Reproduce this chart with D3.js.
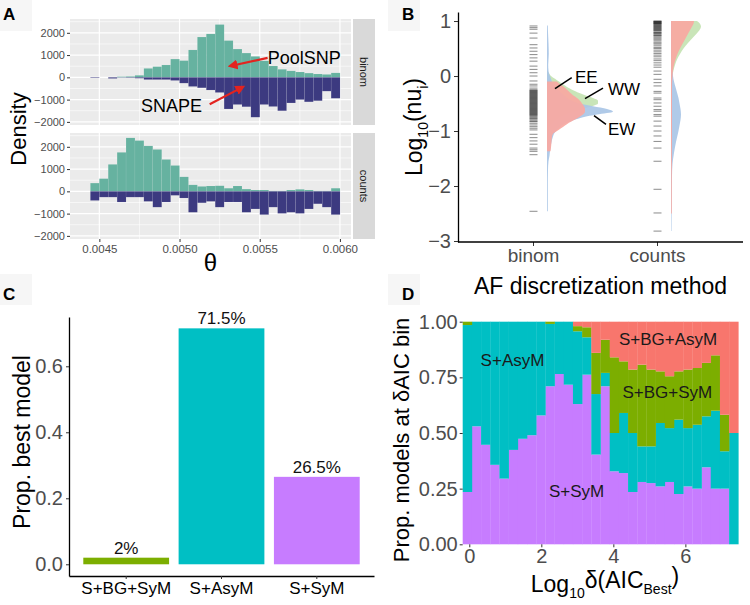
<!DOCTYPE html>
<html>
<head>
<meta charset="utf-8">
<title>theta, nu and AIC panels</title>
<script src="https://d3js.org/d3.v7.min.js"></script>
<style>
  body { margin: 0; background: #fff; }
</style>
</head>
<body>
<script>
// ---------- panel A : theta histograms (28 bins per facet)
var thetaBinStart = 0.004444, thetaBinWidth = 0.0000556;
var binomPoolSNP = [0, 0, 0, 30, 40, 90, 400, 480, 555, 820, 750, 1230, 1810, 1950, 2370, 1650, 1270, 1090, 940, 740, 510, 360, 290, 240, 190, 150, 130, 200];
var binomSNAPE = [-25, 0, -50, -10, -20, -40, -100, -100, -100, -140, -260, -410, -470, -570, -680, -1420, -1220, -1320, -1790, -1220, -1310, -1500, -1150, -1000, -1100, -1050, -620, -940];
var countsPoolSNP = [370, 570, 1210, 1750, 2400, 2280, 2040, 1880, 1430, 1160, 650, 290, 220, 240, 250, 140, 240, 100, 60, 60, 20, 20, 60, 90, 60, 20, 20, 140];
var countsSNAPE = [-410, -260, -260, -480, -260, -260, -450, -710, -480, -180, -300, -940, -515, -450, -710, -480, -480, -940, -790, -1045, -710, -990, -940, -990, -790, -560, -710, -1045];
var thetaTicks = [0.0045, 0.0050, 0.0055, 0.0060];
var thetaMinor = [0.00475, 0.00525, 0.00575];
var densityTicks = [-2000, -1000, 0, 1000, 2000];
var densityMinor = [-1500, -500, 500, 1500, 2500];

// ---------- panel B : half densities of log10(nu_i) + rugs
var methods = ["binom", "counts"];
var binomGrid = [0.92, 0.8, 0.6, 0.4, 0.2, 0.1, 0.05, 0.0, -0.05, -0.1, -0.15, -0.2, -0.25, -0.3, -0.35, -0.4, -0.45, -0.5, -0.55, -0.6, -0.65, -0.7, -0.75, -0.8, -0.85, -0.9, -0.95, -1.0, -1.05, -1.1, -1.2, -1.3, -1.37, -1.45, -1.55, -1.7, -2.0, -2.46];
var binomEW = [0.8, 1.0, 1.5, 1.8, 1.2, 1.5, 2, 3, 4, 5, 7, 9, 11, 14, 17, 20, 25, 32, 46, 60, 66, 50, 36, 27, 20, 15, 12, 9, 7, 6, 4.5, 3.5, 3, 2.5, 1.5, 1, 0.8, 0.8];
var binomWW = [null, null, null, null, null, 0.5, 2, 4, 8, 12, 16, 20, 25, 31, 38, 46, 51, 51, 45, 36, 26, 18, 12, 8, 5, 3, 2, 1, 0.8, 0.6, 0.4, 0.3, null, null, null, null, null, null];
var binomEE = [null, null, null, null, null, null, null, null, null, 10, 13, 17, 20, 23, 26, 30, 33, 35, 37, 38, 38, 36, 32, 27, 22, 18, 14, 10, 6, 5, 4.5, 4, 3.5, null, null, null, null, null];
var countsGrid = [1.0, 0.95, 0.9, 0.85, 0.8, 0.7, 0.6, 0.5, 0.4, 0.3, 0.2, 0.1, 0.0, -0.1, -0.2, -0.3, -0.4, -0.5, -0.6, -0.7, -0.8, -0.9, -1.0, -1.2, -1.4, -1.6, -1.8, -2.0, -2.5, -2.82];
var countsEW = [1, 1, 1, 1, 1, 1, 1, 1, 1, 1, 1.2, 1.5, 2, 3, 4.5, 6, 7.5, 8.5, 9.5, 10, 9.5, 8.5, 7.5, 5, 3, 1.5, 1, 0.8, 0.6, 0.5];
var countsWW = [26, 29, 30, 29, 27, 22, 17, 12.5, 9, 6, 4, 2.5, 1.5, 1, 0.5, 0.3, null, null, null, null, null, null, null, null, null, null, null, null, null, null];
var countsEE = [23, 22.5, 21, 19.5, 18, 15, 12, 9, 6.5, 4.5, 3, 2, 1.5, 1.2, 1, 1, 1, 1, 1, 1, 1, 1, 1, 1, 0.9, 0.9, 0.8, 0.8, 0.8, null];
var binomRug = [0.91, 0.88, 0.85, 0.78, 0.69, 0.57, 0.51, 0.45, 0.39, 0.33, 0.27, 0.18, 0.12, 0.06, 0.0, -0.09, -0.15, -0.18, -0.22,
    -0.25, -0.26, -0.27, -0.28, -0.29, -0.30, -0.31, -0.32, -0.33, -0.34, -0.35, -0.36, -0.37, -0.38, -0.39, -0.40, -0.41, -0.42, -0.43, -0.44,
    -0.45, -0.46, -0.47, -0.48, -0.49, -0.50, -0.51, -0.52, -0.53, -0.54, -0.55, -0.56, -0.57, -0.58, -0.59, -0.60, -0.61, -0.62, -0.63, -0.64,
    -0.65, -0.66, -0.67, -0.68, -0.69, -0.70, -0.71, -0.72, -0.74, -0.75, -0.77, -0.78, -0.80, -0.82, -0.83, -0.86, -0.89, -0.92, -0.95, -0.98,
    -1.06, -1.12, -1.18, -1.24, -1.31, -1.34, -1.37, -1.43, -2.46];
var countsRug = [1.0, 0.995, 0.99, 0.98, 0.975, 0.97, 0.96, 0.955, 0.95, 0.94, 0.93, 0.92, 0.91, 0.90, 0.89, 0.88, 0.87, 0.86, 0.85, 0.84, 0.83, 0.82,
    0.80, 0.79, 0.78, 0.77, 0.75, 0.74, 0.73, 0.71, 0.69, 0.67, 0.65, 0.62, 0.60, 0.58, 0.55, 0.52, 0.50, 0.47, 0.44, 0.41, 0.38, 0.35, 0.31, 0.28,
    0.24, 0.20, 0.16, 0.09, 0.03, -0.06, -0.12, -0.18, -0.28, -0.31, -0.40, -0.43, -0.49, -0.55, -0.61, -0.64, -0.70, -0.73, -0.82, -0.91, -1.0,
    -1.09, -1.19, -1.31, -1.55, -2.06, -2.49, -2.82];
var nuTicks = [1, 0, -1, -2, -3];

// ---------- panel C : best model proportions
var models = ["S+BG+SyM", "S+AsyM", "S+SyM"];
var propBest = [0.02, 0.715, 0.265];
var propLabels = ["2%", "71.5%", "26.5%"];
var propBestTicks = [0, 0.2, 0.4, 0.6];

// ---------- panel D : model proportions per log10 delta AIC bin (30 bins)
var aicBinStart = -0.183, aicBinWidth = 0.2551;
var pSyM = [0.235, 0.53, 0.447, 0.357, 0.295, 0.424, 0.474, 0.49, 0.579, 0.71, 0.765, 0.717, 0.63, 0.762, 0.403, 0.71, 0.328, 0.32, 0.235, 0.28, 0.275, 0.26, 0.28, 0.226, 0.26, 0.25, 0.346, 0.25, 0.25, 0];
var pAsyM = [0.75, 0.47, 0.553, 0.643, 0.705, 0.576, 0.526, 0.51, 0.421, 0.28, 0.235, 0.283, 0.327, 0.168, 0.272, 0.06, 0.172, 0.27, 0.265, 0.16, 0.165, 0.285, 0.242, 0.334, 0.262, 0.287, 0.229, 0.35, 0.168, 0.5];
var pBGSyM = [0.015, 0, 0, 0, 0, 0, 0, 0, 0, 0.01, 0, 0, 0.023, 0.045, 0.185, 0.149, 0.34, 0.232, 0.285, 0.367, 0.345, 0.232, 0.233, 0.217, 0.263, 0.255, 0.24, 0.249, 0.164, 0];
var pBGAsyM = [0, 0, 0, 0, 0, 0, 0, 0, 0, 0, 0, 0, 0.02, 0.025, 0.14, 0.081, 0.16, 0.178, 0.215, 0.193, 0.215, 0.223, 0.245, 0.223, 0.215, 0.208, 0.185, 0.151, 0.418, 0.5];
var aicTicks = [0, 2, 4, 6];
var propTicks = [0, 0.25, 0.5, 0.75, 1];

// ======================================================================
var font = "'Liberation Sans', Arial, Helvetica, sans-serif";
var svg = d3.select("body").append("svg").attr("width", 750).attr("height", 605)
    .style("font-family", font);
svg.append("rect").attr("width", 750).attr("height", 605).attr("fill", "#fff");

var defs = svg.append("defs");
defs.append("marker").attr("id", "redhead").attr("viewBox", "0 0 10 10")
    .attr("refX", 7).attr("refY", 5).attr("markerWidth", 4.5).attr("markerHeight", 4.5)
    .attr("orient", "auto")
  .append("path").attr("d", "M0,0L10,5L0,10z").attr("fill", "#e3231f");

function styleAxis(g, size, color, keepDomain) {
    if (!keepDomain) g.select(".domain").remove();
    else g.select(".domain").attr("stroke", "#000").attr("stroke-width", 1.3);
    g.selectAll(".tick line").attr("stroke", "#333");
    g.selectAll(".tick text").attr("font-family", font).attr("font-size", size).attr("fill", color);
}

// panel letters with their faint backing boxes
var letters = [
    {t: "A", x: 0, y: 0, tx: 3, ty: 20}, {t: "B", x: 388, y: 0, tx: 402, ty: 20},
    {t: "C", x: 0, y: 274, tx: 3, ty: 300}, {t: "D", x: 388, y: 274, tx: 402, ty: 300}
];
letters.forEach(function (l) {
    svg.append("rect").attr("x", l.x).attr("y", l.y).attr("width", 32).attr("height", 31).attr("fill", "#f6f6f6");
    svg.append("text").attr("x", l.tx).attr("y", l.ty).attr("font-size", 17)
        .attr("font-weight", "bold").text(l.t);
});

// ---------------- panel A
var xA = d3.scaleLinear().domain([0.004317, 0.006069]).range([70, 351]);
var facetH = 106;
var facets = [
    {name: "binom", top: 19, pool: binomPoolSNP, snape: binomSNAPE},
    {name: "counts", top: 133, pool: countsPoolSNP, snape: countsSNAPE}
];
var yAbinom = null;
facets.forEach(function (f) {
    var yA = d3.scaleLinear().domain([-2140, 2620]).range([f.top + facetH, f.top]);
    if (f.name === "binom") yAbinom = yA;
    var g = svg.append("g");
    g.append("rect").attr("x", xA.range()[0]).attr("y", f.top)
        .attr("width", xA.range()[1] - xA.range()[0]).attr("height", facetH).attr("fill", "#ebebeb");
    g.selectAll("line.hmin").data(densityMinor).enter().append("line")
        .attr("x1", xA.range()[0]).attr("x2", xA.range()[1])
        .attr("y1", function (d) { return yA(d); }).attr("y2", function (d) { return yA(d); })
        .attr("stroke", "#fff").attr("stroke-width", 0.6);
    g.selectAll("line.vmin").data(thetaMinor).enter().append("line")
        .attr("y1", f.top).attr("y2", f.top + facetH)
        .attr("x1", function (d) { return xA(d); }).attr("x2", function (d) { return xA(d); })
        .attr("stroke", "#fff").attr("stroke-width", 0.6);
    g.selectAll("line.hmaj").data(densityTicks).enter().append("line")
        .attr("x1", xA.range()[0]).attr("x2", xA.range()[1])
        .attr("y1", function (d) { return yA(d); }).attr("y2", function (d) { return yA(d); })
        .attr("stroke", "#fff").attr("stroke-width", 1.2);
    g.selectAll("line.vmaj").data(thetaTicks).enter().append("line")
        .attr("y1", f.top).attr("y2", f.top + facetH)
        .attr("x1", function (d) { return xA(d); }).attr("x2", function (d) { return xA(d); })
        .attr("stroke", "#fff").attr("stroke-width", 1.2);

    function bars(data, color) {
        g.selectAll(null).data(data).enter().append("rect")
            .attr("x", function (d, i) { return xA(thetaBinStart + i * thetaBinWidth); })
            .attr("width", function (d, i) { return xA(thetaBinStart + (i + 1) * thetaBinWidth) - xA(thetaBinStart + i * thetaBinWidth); })
            .attr("y", function (d) { return yA(Math.max(d, 0)); })
            .attr("height", function (d) { return Math.abs(yA(d) - yA(0)); })
            .attr("fill", color).attr("stroke", "#fff").attr("stroke-opacity", 0.12).attr("stroke-width", 0.5);
    }
    bars(f.pool, "#66b2a0");
    bars(f.snape, "#3c3a80");

    // facet strip
    g.append("rect").attr("x", 353).attr("y", f.top).attr("width", 22).attr("height", facetH).attr("fill", "#d9d9d9");
    g.append("text").attr("transform", "translate(364," + (f.top + facetH / 2) + ") rotate(90)")
        .attr("text-anchor", "middle").attr("dy", "0.35em").attr("font-size", 11).attr("fill", "#1a1a1a")
        .text(f.name);

    var ax = g.append("g").attr("transform", "translate(" + xA.range()[0] + ",0)")
        .call(d3.axisLeft(yA).tickValues(densityTicks).tickFormat(d3.format("d")).tickSize(3).tickPadding(2));
    styleAxis(ax, 11, "#4d4d4d");
});
var axA = svg.append("g").attr("transform", "translate(0," + (133 + facetH) + ")")
    .call(d3.axisBottom(xA).tickValues(thetaTicks).tickFormat(d3.format(".4f")).tickSize(3).tickPadding(3));
styleAxis(axA, 11.5, "#4d4d4d");
svg.append("text").attr("transform", "translate(18,129) rotate(-90)").attr("text-anchor", "middle")
    .attr("dy", "0.35em").attr("font-size", 22).text("Density");
svg.append("text").attr("x", (xA.range()[0] + xA.range()[1]) / 2).attr("y", 271)
    .attr("text-anchor", "middle").attr("font-size", 24).text("θ");

// annotations on the binom facet
svg.append("text").attr("x", xA(0.00555)).attr("y", yAbinom(600)).attr("font-size", 18).text("PoolSNP");
svg.append("text").attr("x", xA(0.00495)).attr("y", yAbinom(-1575)).attr("text-anchor", "middle")
    .attr("font-size", 18).text("SNAPE");
[[0.005549, 873, 0.005318, 511], [0.005188, -1208, 0.005393, -439]].forEach(function (a) {
    svg.append("line").attr("x1", xA(a[0])).attr("y1", yAbinom(a[1]))
        .attr("x2", xA(a[2])).attr("y2", yAbinom(a[3]))
        .attr("stroke", "#e3231f").attr("stroke-width", 2.2).attr("marker-end", "url(#redhead)");
});

// ---------------- panel B
var yB = d3.scaleLinear().domain([-3.018, 1.164]).range([242, 12]);
var xB = d3.scalePoint().domain(methods).range([533, 657]);
var wB = d3.scaleLinear().domain([0, 70]).range([0, 70]);
var densGap = 14;
var groups = [
    {method: "binom", grid: binomGrid, ww: binomWW, ew: binomEW, ee: binomEE, rug: binomRug},
    {method: "counts", grid: countsGrid, ww: countsWW, ew: countsEW, ee: countsEE, rug: countsRug}
];
var densColors = {ww: "#c4e3b2", ew: "#a9c6e6", ee: "#f8a8a1"};
groups.forEach(function (gr) {
    var base = xB(gr.method) + densGap;
    ["ww", "ew", "ee"].forEach(function (k) {
        var pts = gr.grid.map(function (v, i) { return {v: v, w: gr[k][i]}; });
        var area = d3.area()
            .defined(function (d) { return d.w != null; })
            .y(function (d) { return yB(d.v); })
            .x0(base)
            .x1(function (d) { return base + wB(d.w); })
            .curve(d3.curveMonotoneY);
        svg.append("path").datum(pts).attr("d", area).attr("fill", densColors[k]).attr("fill-opacity", 0.92);
    });
    svg.selectAll(null).data(gr.rug).enter().append("line")
        .attr("x1", xB(gr.method) - 3.5).attr("x2", xB(gr.method) + 4.5)
        .attr("y1", function (d) { return yB(d); }).attr("y2", function (d) { return yB(d); })
        .attr("stroke", "#000").attr("stroke-opacity", 0.42).attr("stroke-width", 1.1);
});
var axBy = svg.append("g").attr("transform", "translate(458,0)")
    .call(d3.axisLeft(yB).tickValues(nuTicks).tickFormat(d3.format("d")).tickSize(4).tickSizeOuter(0).tickPadding(3));
styleAxis(axBy, 20, "#4d4d4d", true);
var axBx = svg.append("g").attr("transform", "translate(0,242)")
    .call(d3.axisBottom(xB).tickSize(4).tickSizeOuter(0).tickPadding(3));
styleAxis(axBx, 19, "#4d4d4d");
svg.append("line").attr("x1", 458).attr("x2", 743).attr("y1", 242).attr("y2", 242)
    .attr("stroke", "#000").attr("stroke-width", 1.3);
var tB = svg.append("text").attr("transform", "translate(414,127) rotate(-90)")
    .attr("text-anchor", "middle").attr("dy", "0.35em").attr("font-size", 23);
tB.append("tspan").text("Log");
tB.append("tspan").attr("font-size", 14).attr("dy", "0.45em").text("10");
tB.append("tspan").attr("dy", "-0.3em").text("(nu");
tB.append("tspan").attr("font-size", 14).attr("dy", "0.45em").text("i");
tB.append("tspan").attr("dy", "-0.3em").text(")");
svg.append("text").attr("x", 600.5).attr("y", 294).attr("text-anchor", "middle")
    .attr("font-size", 23).text("AF discretization method");

var annB = [
    {t: "EE", x: 28, v: -0.13, l: [24.7, -0.03, 8, -0.23]},
    {t: "WW", x: 61, v: -0.35, l: [56, -0.22, 38, -0.41]},
    {t: "EW", x: 61, v: -1.07, l: [59, -0.88, 47, -0.72]}
];
annB.forEach(function (a) {
    var base = xB("binom") + densGap;
    svg.append("text").attr("x", base + wB(a.x)).attr("y", yB(a.v)).attr("font-size", 17).text(a.t);
    svg.append("line").attr("x1", base + wB(a.l[0])).attr("y1", yB(a.l[1]))
        .attr("x2", base + wB(a.l[2])).attr("y2", yB(a.l[3]))
        .attr("stroke", "#000").attr("stroke-width", 1.5);
});

// ---------------- panel C
var xC = d3.scaleBand().domain(models).range([69, 374]).paddingInner(0.1).paddingOuter(0.15);
var yC = d3.scaleLinear().domain([-0.0355, 0.7494]).range([576, 317]);
var colC = d3.scaleOrdinal().domain(models).range(["#7cae00", "#00bfc4", "#c77cff"]);
svg.selectAll(null).data(models).enter().append("rect")
    .attr("x", function (d) { return xC(d); }).attr("width", xC.bandwidth())
    .attr("y", function (d, i) { return yC(propBest[i]); })
    .attr("height", function (d, i) { return yC(0) - yC(propBest[i]); })
    .attr("fill", function (d) { return colC(d); });
svg.selectAll(null).data(models).enter().append("text")
    .attr("x", function (d) { return xC(d) + xC.bandwidth() / 2; })
    .attr("y", function (d, i) { return yC(propBest[i]) - 4; })
    .attr("text-anchor", "middle").attr("font-size", 17).attr("fill", "#111")
    .text(function (d, i) { return propLabels[i]; });
var axCy = svg.append("g").attr("transform", "translate(69,0)")
    .call(d3.axisLeft(yC).tickValues(propBestTicks).tickFormat(d3.format(".1f")).tickSize(3).tickSizeOuter(0).tickPadding(3));
styleAxis(axCy, 20, "#4d4d4d", true);
var axCx = svg.append("g").attr("transform", "translate(0,576)")
    .call(d3.axisBottom(xC).tickSize(3).tickSizeOuter(0).tickPadding(3));
styleAxis(axCx, 17, "#000", true);
svg.append("text").attr("transform", "translate(22,442) rotate(-90)").attr("text-anchor", "middle")
    .attr("dy", "0.35em").attr("font-size", 23).text("Prop. best model");

// ---------------- panel D
var xD = d3.scaleLinear().domain([-0.183, 7.47]).range([462.7, 738.3]);
var yD = d3.scaleLinear().domain([0, 1]).range([544.3, 321.7]);
var keysD = ["S+SyM", "S+AsyM", "S+BG+SyM", "S+BG+AsyM"];
var colD = d3.scaleOrdinal().domain(keysD).range(["#c77cff", "#00bfc4", "#7cae00", "#f8766d"]);
var rowsD = pSyM.map(function (d, i) {
    return {x0: aicBinStart + i * aicBinWidth, x1: aicBinStart + (i + 1) * aicBinWidth,
        "S+SyM": pSyM[i], "S+AsyM": pAsyM[i], "S+BG+SyM": pBGSyM[i], "S+BG+AsyM": pBGAsyM[i]};
});
var stackD = d3.stack().keys(keysD)(rowsD);
svg.append("g").selectAll("g").data(stackD).enter().append("g")
    .attr("fill", function (s) { return colD(s.key); })
  .selectAll("rect").data(function (s) { return s; }).enter().append("rect")
    .attr("x", function (d) { return xD(d.data.x0); })
    .attr("width", function (d) { return xD(d.data.x1) - xD(d.data.x0) + 0.3; })
    .attr("y", function (d) { return yD(d[1]); })
    .attr("height", function (d) { return Math.max(0, yD(d[0]) - yD(d[1])); });
var axDy = svg.append("g").attr("transform", "translate(462.7,0)")
    .call(d3.axisLeft(yD).tickValues(propTicks).tickFormat(d3.format(".2f")).tickSize(3).tickPadding(2));
styleAxis(axDy, 20, "#4d4d4d");
var axDx = svg.append("g").attr("transform", "translate(0,544.3)")
    .call(d3.axisBottom(xD).tickValues(aicTicks).tickFormat(d3.format("d")).tickSize(3).tickPadding(2));
styleAxis(axDx, 20, "#4d4d4d");
var annD = [
    {t: "S+AsyM", x: 1.2, y: 0.826}, {t: "S+BG+AsyM", x: 5.52, y: 0.92},
    {t: "S+BG+SyM", x: 5.5, y: 0.686}, {t: "S+SyM", x: 2.98, y: 0.237}
];
svg.selectAll(null).data(annD).enter().append("text")
    .attr("x", function (d) { return xD(d.x); }).attr("y", function (d) { return yD(d.y); })
    .attr("dy", "0.35em").attr("text-anchor", "middle").attr("font-size", 17).attr("fill", "#1a1a1a")
    .text(function (d) { return d.t; });
svg.append("text").attr("transform", "translate(401,440) rotate(-90)")
    .attr("text-anchor", "middle").attr("dy", "0.35em").attr("font-size", 22)
    .text("Prop. models at δAIC bin");
var tDx = svg.append("text").attr("x", 605).attr("y", 592).attr("text-anchor", "middle").attr("font-size", 23);
tDx.append("tspan").text("Log");
tDx.append("tspan").attr("font-size", 14).attr("dy", "0.45em").text("10");
tDx.append("tspan").attr("dy", "-0.45em").text("δ(AIC");
tDx.append("tspan").attr("font-size", 14).attr("dy", "0.45em").text("Best");
tDx.append("tspan").attr("dy", "-0.45em").text(")");
</script>
</body>
</html>
